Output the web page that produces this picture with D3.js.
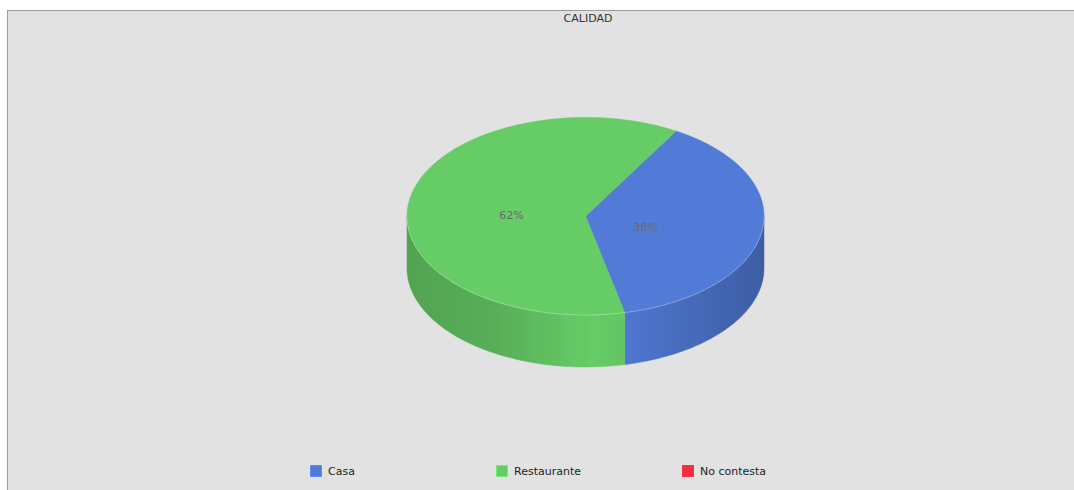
<!DOCTYPE html>
<html>
<head>
<meta charset="utf-8">
<script src="https://cdn.jsdelivr.net/npm/d3@7"></script>
<style>
  html, body { margin: 0; padding: 0; background: #ffffff; overflow: hidden; }
  svg { display: block; }
</style>
</head>
<body>
<svg id="chart" width="1074" height="490"></svg>
<script>
// Chart data
const title = "CALIDAD";
const categories = ["Casa", "Restaurante", "No contesta"];
const values = [38, 62, 0];
const colors = ["#517bd7", "#66cc66", "#ef2f40"];

const svg = d3.select("#chart");

// Frame: plot area is wider than the window, so it is clipped on the right
const frame = { x: 7.5, y: 10.5, w: 1160, h: 520 };
svg.append("rect")
  .attr("x", frame.x).attr("y", frame.y)
  .attr("width", frame.w).attr("height", frame.h)
  .attr("fill", "#e2e2e2")
  .attr("stroke", "#9c9c9c")
  .attr("stroke-width", 1);

const midX = frame.x + frame.w / 2 + 0.5;

svg.append("text")
  .attr("x", midX).attr("y", 22)
  .attr("text-anchor", "middle")
  .attr("font-family", "DejaVu Sans, sans-serif")
  .attr("font-size", 11)
  .attr("fill", "#333")
  .text(title);

// 3D pie geometry
const cx = 585.5, cy = 216.2, rx = 178.5, ry = 98.8, depth = 52;
const color = d3.scaleOrdinal().domain(categories).range(colors);

const startDeg = 30.5;
const pie = d3.pie()
  .sort(null)
  .value(d => d.value)
  .startAngle(startDeg * Math.PI / 180)
  .endAngle(startDeg * Math.PI / 180 + 2 * Math.PI);

const data = categories.map((c, i) => ({ name: c, value: values[i] }));
const arcs = pie(data);

// angle measured clockwise from 12 o'clock
const px = a => cx + rx * Math.sin(a);
const py = (a, off = 0) => cy - ry * Math.cos(a) + off;

function arcPoints(a0, a1, off) {
  const n = Math.max(2, Math.ceil(Math.abs(a1 - a0) / (Math.PI / 180)));
  return d3.range(n + 1).map(i => {
    const a = a0 + (a1 - a0) * i / n;
    return [px(a), py(a, off)];
  });
}
const line = d3.line();

// Shading gradients for the side walls
const defs = svg.append("defs");
function shade(c, k) {
  const h = d3.rgb(c);
  return d3.rgb(h.r * k, h.g * k, h.b * k).formatHex();
}
const shadeStops = [[0, 0.80], [0.25, 0.86], [0.52, 1.0], [0.62, 0.96], [1, 0.76]];
categories.forEach((c, i) => {
  const g = defs.append("linearGradient")
    .attr("id", "side" + i)
    .attr("gradientUnits", "userSpaceOnUse")
    .attr("x1", cx - rx).attr("x2", cx + rx)
    .attr("y1", 0).attr("y2", 0);
  shadeStops.forEach(([o, k]) => {
    g.append("stop").attr("offset", o).attr("stop-color", shade(color(c), k));
  });
});

// Side walls: only the front half (90°..270°) is visible
const frontStart = Math.PI / 2, frontEnd = 3 * Math.PI / 2;
const sideG = svg.append("g");
arcs.forEach((d, i) => {
  if (d.value <= 0) return;
  [0, 2 * Math.PI].forEach(shift => {
    const b0 = Math.max(d.startAngle, frontStart + shift);
    const b1 = Math.min(d.endAngle, frontEnd + shift);
    if (b1 <= b0) return;
    const top = arcPoints(b0, b1, 0);
    const bottom = arcPoints(b1, b0, depth);
    sideG.append("path")
      .attr("d", line(top.concat(bottom)) + "Z")
      .attr("fill", `url(#side${i})`)
      .attr("stroke", `url(#side${i})`)
      .attr("stroke-width", 0.5);
  });
});

// Top face
const topG = svg.append("g");
arcs.forEach(d => {
  if (d.value <= 0) return;
  const pts = [[cx, cy]].concat(arcPoints(d.startAngle, d.endAngle, 0));
  topG.append("path")
    .attr("d", line(pts) + "Z")
    .attr("fill", color(d.data.name))
    .attr("stroke", color(d.data.name))
    .attr("stroke-width", 0.5);
});

// faint highlight along the front rim
svg.append("path")
  .attr("d", line(arcPoints(frontStart, frontEnd, 0)))
  .attr("fill", "none")
  .attr("stroke", "rgba(255,255,255,0.35)")
  .attr("stroke-width", 0.8);

// Percentage labels
const total = d3.sum(values);
const fmt = d3.format(".0%");
const labelK = 0.38;
svg.append("g").selectAll("text")
  .data(arcs.filter(d => d.value > 0))
  .join("text")
  .attr("x", d => {
    const m = (d.startAngle + d.endAngle) / 2;
    return cx + labelK * rx * Math.sin(m) - 7;
  })
  .attr("y", d => {
    const m = (d.startAngle + d.endAngle) / 2;
    return cy - labelK * ry * Math.cos(m) + 9;
  })
  .attr("text-anchor", "middle")
  .attr("font-family", "DejaVu Sans, sans-serif")
  .attr("font-size", 11)
  .attr("fill", "#6a6a6a")
  .text(d => fmt(d.value / total));

// Legend
const legendX = d3.scaleBand().domain(categories).range([310, 868]);
const legend = svg.append("g").selectAll("g")
  .data(categories)
  .join("g")
  .attr("transform", c => `translate(${legendX(c)},465)`);
legend.append("rect")
  .attr("x", 0.5).attr("y", 0.5)
  .attr("width", 11).attr("height", 11)
  .attr("fill", c => color(c))
  .attr("stroke", c => d3.rgb(color(c)).brighter(0.4))
  .attr("stroke-width", 1);
legend.append("text")
  .attr("x", 18).attr("y", 10)
  .attr("font-family", "DejaVu Sans, sans-serif")
  .attr("font-size", 11)
  .attr("fill", "#222")
  .text(c => c);
</script>
</body>
</html>
